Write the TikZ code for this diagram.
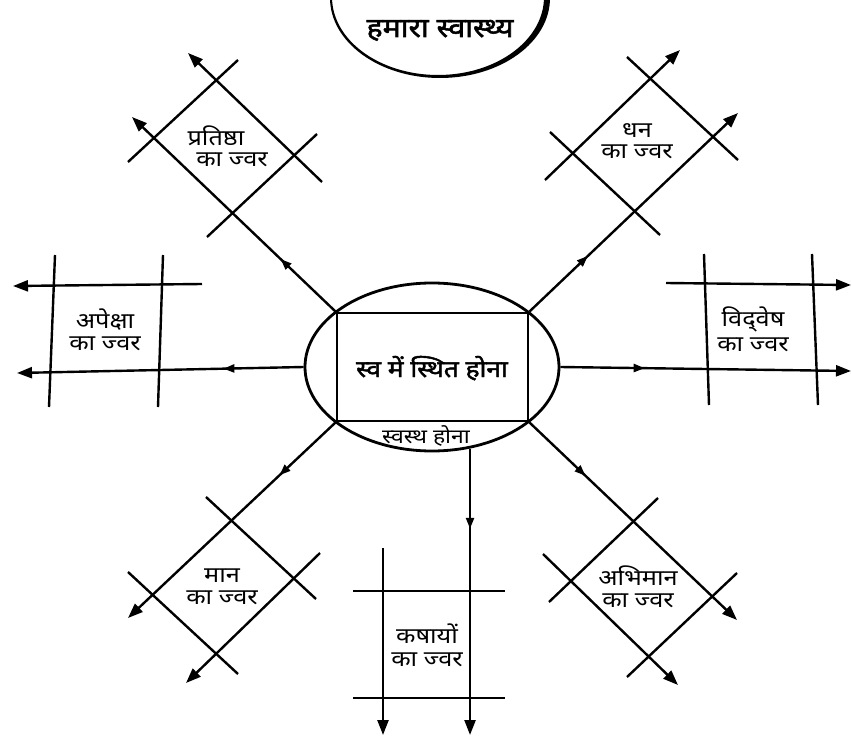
\documentclass[tikz,border=0pt]{standalone}
\usepackage{fontspec}
\newfontfamily\dev[Script=Devanagari,FakeStretch=1.15]{Noto Sans}
\newfontfamily\devb[Script=Devanagari,FakeStretch=1.12,FakeBold=2]{Noto Sans}
\usetikzlibrary{arrows.meta,decorations.markings,shapes.geometric}
\begin{document}
\begin{tikzpicture}[x=1pt,y=-1pt,
  ln/.style={line width=2.4pt},
  tip/.style={-{Triangle[length=15pt,width=11pt]}},
  midarr/.style={postaction={decorate},decoration={markings,mark=at position #1 with {\arrow{Triangle[length=11pt,width=8pt]}}}},
  lbl/.style={font=\dev\fontsize{22}{24}\selectfont, inner sep=0pt, anchor=base},
]
\useasboundingbox (0,0) rectangle (852,741);

% title crescent
\begin{scope}
\clip (0,0) rectangle (852,741);
\fill[even odd rule] (440,-2) ellipse [x radius=110, y radius=80] (438,-3) ellipse [x radius=106, y radius=78];
\end{scope}
\node[font=\devb\fontsize{27}{30}\selectfont, inner sep=0pt, anchor=base] (title) at (440,37) {हमारा स्वास्थ्य};

% centre
\node[draw, ellipse, line width=2.8pt, minimum width=254pt, minimum height=168pt, inner sep=0pt] (oval) at (432,367) {};
\node[draw, rectangle, line width=2.8pt, minimum width=191pt, minimum height=108pt, inner sep=0pt] (core) at (432.5,367) {};
\node[font=\devb\fontsize{23.5}{26}\selectfont, inner sep=0pt, anchor=base] (coretext) at (432,377) {स्व में स्थित होना};
\node[font=\dev\fontsize{20}{22}\selectfont, inner sep=0pt, anchor=base] (healthy) at (426,443) {स्वस्थ होना};

% top-left
\coordinate (tlA) at (132,117);
\coordinate (tlB1) at (322,182); \coordinate (tlB2) at (188,53);
\coordinate (tlC1) at (128,162); \coordinate (tlC2) at (238,60);
\coordinate (tlD1) at (207,237); \coordinate (tlD2) at (317,134);
\draw[ln,tip,midarr=0.27] (core.north west) -- (tlA);
\draw[ln,tip] (tlB1) -- (tlB2);
\draw[ln] (tlC1) -- (tlC2);
\draw[ln] (tlD1) -- (tlD2);
\node[lbl] (tlT1) at (216,146) {प्रतिष्ठा};
\node[lbl] (tlT2) at (232,167) {का ज्वर};

% top-right
\coordinate (trA) at (738,113);
\coordinate (trB1) at (545,180); \coordinate (trB2) at (680,50);
\coordinate (trC1) at (550,132); \coordinate (trC2) at (660,235);
\coordinate (trD1) at (627,57); \coordinate (trD2) at (738,160);
\draw[ln,tip,midarr=0.28] (core.north east) -- (trA);
\draw[ln,tip] (trB1) -- (trB2);
\draw[ln] (trC1) -- (trC2);
\draw[ln] (trD1) -- (trD2);
\node[lbl] (trT1) at (637,138) {धन};
\node[lbl] (trT2) at (637,159) {का ज्वर};

% bottom-left
\coordinate (blA) at (128,618);
\coordinate (blB1) at (320,553); \coordinate (blB2) at (186,683);
\coordinate (blC1) at (206,497); \coordinate (blC2) at (316,599);
\coordinate (blD1) at (128,572); \coordinate (blD2) at (238,674);
\draw[ln,tip,midarr=0.27] (core.south west) -- (blA);
\draw[ln,tip] (blB1) -- (blB2);
\draw[ln] (blC1) -- (blC2);
\draw[ln] (blD1) -- (blD2);
\node[lbl] (blT1) at (222,582) {मान};
\node[lbl] (blT2) at (222,604) {का ज्वर};

% bottom-right
\coordinate (brA) at (737,620);
\coordinate (brB1) at (543,554); \coordinate (brB2) at (678,685);
\coordinate (brC1) at (549,602); \coordinate (brC2) at (658,498);
\coordinate (brD1) at (627,677); \coordinate (brD2) at (737,573);
\draw[ln,tip,midarr=0.27] (core.south east) -- (brA);
\draw[ln,tip] (brB1) -- (brB2);
\draw[ln] (brC1) -- (brC2);
\draw[ln] (brD1) -- (brD2);
\node[lbl] (brT1) at (638,585) {अभिमान};
\node[lbl] (brT2) at (638,607) {का ज्वर};

% left
\coordinate (lA) at (17,373);
\coordinate (lB1) at (202,284); \coordinate (lB2) at (13,286);
\coordinate (lC1) at (55,255); \coordinate (lC2) at (49,407);
\coordinate (lD1) at (163,255); \coordinate (lD2) at (158,407);
\draw[ln,tip,midarr=0.28] (oval.west) -- (lA);
\draw[ln,tip] (lB1) -- (lB2);
\draw[ln] (lC1) -- (lC2);
\draw[ln] (lD1) -- (lD2);
\node[lbl] (lT1) at (105,328) {अपेक्षा};
\node[lbl] (lT2) at (105,350) {का ज्वर};

% right
\coordinate (rA) at (851,371);
\coordinate (rB1) at (666,283); \coordinate (rB2) at (851,285);
\coordinate (rC1) at (704,254); \coordinate (rC2) at (709,405);
\coordinate (rD1) at (812,254); \coordinate (rD2) at (818,405);
\draw[ln,tip,midarr=0.29] (oval.east) -- (rA);
\draw[ln,tip] (rB1) -- (rB2);
\draw[ln] (rC1) -- (rC2);
\draw[ln] (rD1) -- (rD2);
\node[lbl] (rT1) at (753,326) {विद्^^^^200cवेष};
\node[lbl] (rT2) at (753,351) {का ज्वर};

% bottom
\coordinate (bEnd) at (470,735);
\coordinate (bB1) at (383,548); \coordinate (bB2) at (383,735);
\coordinate (bC1) at (353,591); \coordinate (bC2) at (505,591);
\coordinate (bD1) at (353,698); \coordinate (bD2) at (505,698);
\draw[ln,tip,midarr=0.28] (oval.-65) -- (oval.-65 |- bEnd);
\draw[ln,tip] (bB1) -- (bB2);
\draw[ln] (bC1) -- (bC2);
\draw[ln] (bD1) -- (bD2);
\node[lbl] (bT1) at (427,643) {कषायों};
\node[lbl] (bT2) at (427,666) {का ज्वर};
\end{tikzpicture}
\end{document}
